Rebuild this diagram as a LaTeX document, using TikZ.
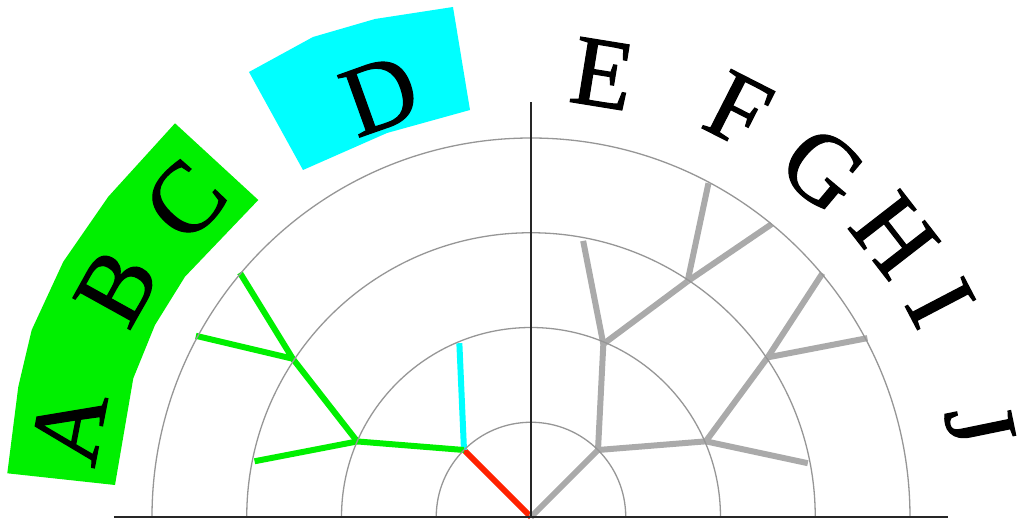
\documentclass[tikz,border=0pt]{standalone}
\usepackage{fontspec}
\setmainfont{Liberation Serif}
\newfontfamily\lblfont[FakeBold=1.2]{Liberation Serif}
\definecolor{tgreen}{RGB}{0,240,0}
\definecolor{tcyan}{RGB}{0,255,255}
\definecolor{tred}{RGB}{255,34,0}
\definecolor{tgray}{RGB}{170,170,170}
\definecolor{cgray}{RGB}{150,150,150}
\begin{document}
\begin{tikzpicture}[x=1pt,y=1pt,
  ring/.style={draw=cgray,line width=1.3pt},
  axis/.style={draw=black!85,line width=1.4pt},
  edge/.style={line width=6pt},
  lbl/.style={inner sep=0pt,font=\lblfont\fontsize{100}{100}\selectfont}]
\useasboundingbox (-531,-3) rectangle (489,517);
% highlight sectors
\fill[tgreen] (-523.7,43.7) -- (-512.7,130.3) -- (-499.3,187) -- (-467.7,255.3) -- (-422.7,320.3) -- (-356,393.7)
  -- (-272.7,317) -- (-346,240.3) -- (-376,192) -- (-397.7,138.7) -- (-416,32) -- cycle;
\fill[tcyan] (-282,445) -- (-218,480) -- (-156,498) -- (-78,510) -- (-61,407) -- (-144,384) -- (-228,347) -- cycle;
% tree coordinates
\coordinate (root) at (0,0);
\coordinate (n1) at (135:94.75);
\coordinate (n2) at (45:94.75);
\coordinate (n3) at (156.5:189.5);
\coordinate (lD) at (112.4:188);
\coordinate (lA) at (168.6:282);
\coordinate (n4) at (146.4:286);
\coordinate (lB) at (151.6:381);
\coordinate (lC) at (140:380);
\coordinate (n5) at (67.3:187.5);
\coordinate (n7) at (23.4:190.5);
\coordinate (lE) at (79.3:281);
\coordinate (n6) at (56.4:283);
\coordinate (lF) at (62:378);
\coordinate (lG) at (50.6:379);
\coordinate (lJ) at (11:282);
\coordinate (n8) at (34:285.5);
\coordinate (lH) at (39.9:380);
\coordinate (lI) at (28:381);
% edges
\draw[edge,tred] (root) -- (n1);
\draw[edge,tcyan] (n1) -- (lD);
\draw[edge,tgreen] (n1) -- (n3);
\draw[edge,tgreen] (n3) -- (lA);
\draw[edge,tgreen] (n3) -- (n4);
\draw[edge,tgreen] (n4) -- (lB);
\draw[edge,tgreen] (n4) -- (lC);
\draw[edge,tgray] (root) -- (n2);
\draw[edge,tgray] (n2) -- (n5);
\draw[edge,tgray] (n2) -- (n7);
\draw[edge,tgray] (n5) -- (lE);
\draw[edge,tgray] (n5) -- (n6);
\draw[edge,tgray] (n6) -- (lF);
\draw[edge,tgray] (n6) -- (lG);
\draw[edge,tgray] (n7) -- (lJ);
\draw[edge,tgray] (n7) -- (n8);
\draw[edge,tgray] (n8) -- (lH);
\draw[edge,tgray] (n8) -- (lI);
% rings
\foreach \r in {94.75,189.5,284.25,379}
  \draw[ring] (\r,0) arc[start angle=0,end angle=180,radius=\r];
% axes
\coordinate (axl) at (-417,0);
\coordinate (axr) at (417,0);
\coordinate (axt) at (0,415);
\draw[axis] (axl) -- (axr);
\draw[axis] (root) -- (axt);
% labels
\node[lbl,rotate=79]   (tA) at (169:471) {A};
\node[lbl,rotate=61]   (tB) at (151:474) {B};
\node[lbl,rotate=47.5] (tC) at (137.5:469) {C};
\node[lbl,rotate=19.7] (tD) at (109.7:448) {D};
\node[lbl,rotate=-9.2] (tE) at (80.8:449) {E};
\node[lbl,rotate=-27]  (tF) at (63:457) {F};
\node[lbl,rotate=-40]  (tG) at (50:454) {G};
\node[lbl,rotate=-52.2] (tH) at (37.8:460) {H};
\node[lbl,rotate=-62.4] (tI) at (27.6:462) {I};
\node[lbl,rotate=-78.4] (tJ) at (11.6:458) {J};
\end{tikzpicture}
\end{document}
